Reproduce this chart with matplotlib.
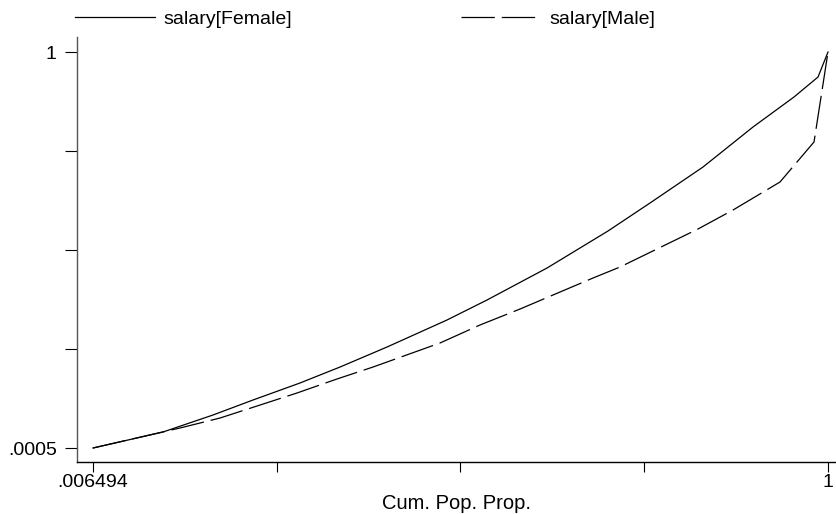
import matplotlib
matplotlib.use("Agg")
import matplotlib.pyplot as plt
import numpy as np

plt.rcParams["font.family"] = ["Liberation Sans", "DejaVu Sans"]
plt.rcParams["lines.scale_dashes"] = False

# Lorenz curve points
female_x = [0.006494, 0.1011, 0.1687, 0.2228, 0.2863, 0.3404, 0.4039, 0.4850,
            0.5391, 0.6202, 0.7026, 0.7594, 0.8310, 0.8986, 0.9540, 0.9865, 1.0]
female_y = [0.0005, 0.0409, 0.0838, 0.1217, 0.1646, 0.2049, 0.2554, 0.3236,
            0.3741, 0.4548, 0.5482, 0.6189, 0.7097, 0.8107, 0.8864, 0.9369, 1.0]

male_x = [0.006494, 0.1241, 0.1782, 0.2282, 0.2822, 0.3363, 0.3850, 0.4755,
          0.5296, 0.5837, 0.6283, 0.6824, 0.7188, 0.8243, 0.8716, 0.9351, 0.9811, 1.0]
male_y = [0.0005, 0.0510, 0.0762, 0.1065, 0.1393, 0.1747, 0.2049, 0.2655,
          0.3110, 0.3513, 0.3867, 0.4296, 0.4573, 0.5533, 0.6012, 0.6719, 0.7730, 1.0]

x_min, x_max = 0.006494, 1.0
y_min, y_max = 0.0005, 1.0
x_ticklabels = [".006494", "", "", "", "1"]
y_ticklabels = [".0005", "", "", "", "1"]

fig = plt.figure(figsize=(8.36, 5.14), dpi=100)
ax = fig.add_axes([77 / 836, 52 / 514, 759 / 836, 425 / 514])

l1, = ax.plot(female_x, female_y, color="black", lw=0.9, label="salary[Female]")
l2, = ax.plot(male_x, male_y, color="black", lw=0.9, dashes=(24, 5),
              label="salary[Male]")

ax.set_xlim(-0.0151, 1.0108)
ax.set_ylim(-0.0348, 1.0379)

ax.set_xticks(np.linspace(x_min, x_max, 5))
ax.set_xticklabels(x_ticklabels)
ax.set_yticks(np.linspace(y_min, y_max, 5))
ax.set_yticklabels(y_ticklabels)

ax.spines["top"].set_visible(False)
ax.spines["right"].set_visible(False)
ax.spines["left"].set_color("#555555")
ax.spines["left"].set_linewidth(1.0)
ax.spines["bottom"].set_color("black")
ax.spines["bottom"].set_linewidth(1.0)

ax.tick_params(axis="y", direction="out", length=8.5, width=0.8, pad=6,
               labelsize=14, color="black")
ax.tick_params(axis="x", direction="out", length=7.5, width=0.8, pad=1,
               labelsize=14, color="black")

ax.set_xlabel("Cum. Pop. Prop.", fontsize=14.5, labelpad=2)

fig.legend(handles=[l1, l2], loc="center left",
           bbox_to_anchor=(75 / 836, 1 - 19 / 514), ncol=2, frameon=False,
           fontsize=14, handlelength=4.1, handletextpad=0.45,
           columnspacing=8.7, borderpad=0, borderaxespad=0)

fig.savefig("out.png", dpi=100)
